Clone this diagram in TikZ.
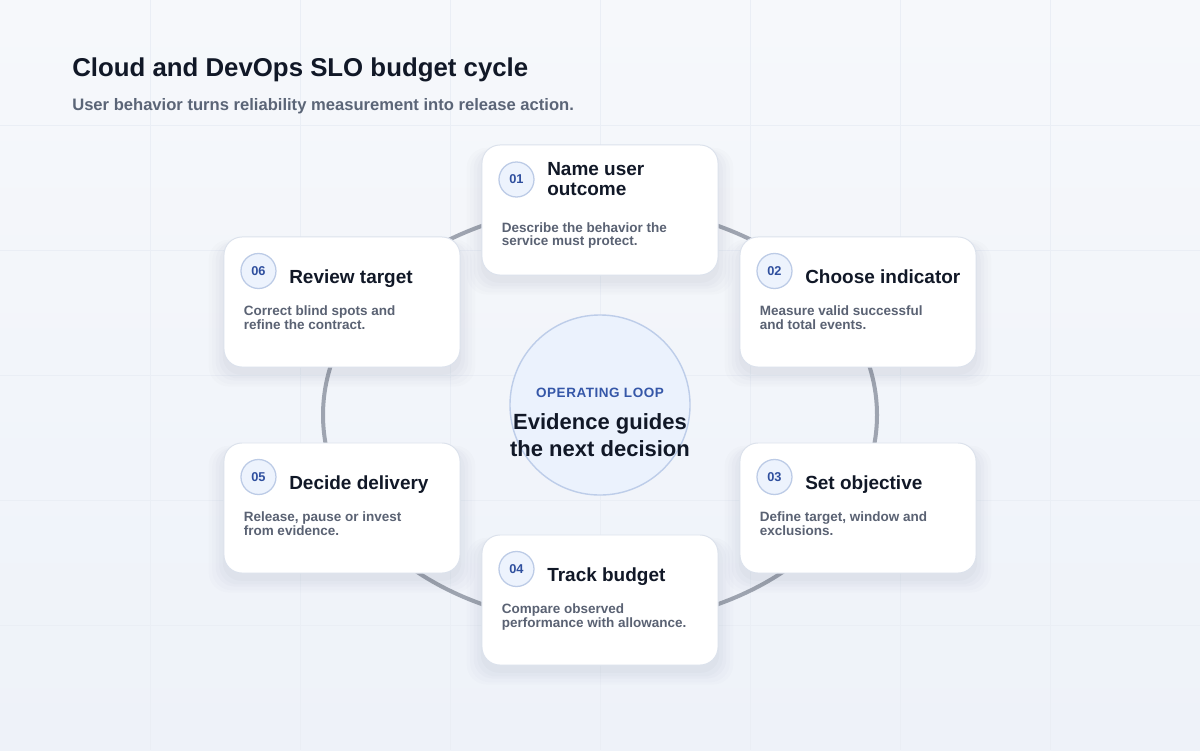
\documentclass[tikz,border=0pt]{standalone}
\usepackage{fontspec}
\setmainfont{Liberation Sans}
\usetikzlibrary{calc}
\usetikzlibrary{shadows}

\definecolor{ink}{HTML}{111827}
\definecolor{slate}{HTML}{5B6577}
\definecolor{bodygray}{HTML}{5A6273}
\definecolor{ringgray}{HTML}{9EA4B0}
\definecolor{cardline}{HTML}{DCE2EC}
\definecolor{badgefill}{HTML}{EDF3FD}
\definecolor{badgeline}{HTML}{BCCBE6}
\definecolor{badgeink}{HTML}{2F4F9E}
\definecolor{hubfill}{HTML}{EBF2FD}
\definecolor{hubline}{HTML}{BDCDE9}
\definecolor{loopblue}{HTML}{3557A8}
\definecolor{bgtop}{HTML}{F6F8FB}
\definecolor{bgbottom}{HTML}{EEF2F9}
\definecolor{gridline}{HTML}{EAEEF5}
\definecolor{shadowink}{HTML}{1E2B4F}

\begin{document}
\begin{tikzpicture}[x=0.025cm, y=-0.025cm]
                \tikzstyle{card} = [draw=cardline, line width=0.7pt, fill=white, rounded corners=0.45cm,
                        minimum width=5.9cm, minimum height=3.25cm, inner sep=0pt,
                        general shadow={fill=shadowink, fill opacity=0.010, shadow yshift=-7pt, shadow scale=1.13},
                        general shadow={fill=shadowink, fill opacity=0.012, shadow yshift=-7pt, shadow scale=1.10},
                        general shadow={fill=shadowink, fill opacity=0.014, shadow yshift=-6pt, shadow scale=1.07},
                        general shadow={fill=shadowink, fill opacity=0.016, shadow yshift=-6pt, shadow scale=1.04},
                        general shadow={fill=shadowink, fill opacity=0.018, shadow yshift=-5pt, shadow scale=1.01}]
                \tikzstyle{badge} = [circle, minimum size=0.875cm, inner sep=0pt, fill=badgefill, draw=badgeline,
                        line width=0.9pt, text=badgeink, font=\fontsize{9.1pt}{10pt}\selectfont\bfseries]
                \tikzstyle{steptitle} = [anchor=base west, inner sep=0pt, align=left, text=ink,
                        font=\fontsize{13.5pt}{14.5pt}\selectfont\bfseries]
                \tikzstyle{stepbody} = [anchor=base west, inner sep=0pt, align=left, text=bodygray,
                        font=\fontsize{9.6pt}{9.8pt}\selectfont\bfseries]
                \tikzstyle{ring} = [draw=ringgray, line width=2.85pt]

                % page, grid
                \useasboundingbox (0,0) rectangle (1200,750);
                \shade[top color=bgtop, bottom color=bgbottom] (0,0) rectangle (1200,750);
                \foreach \gx in {150,300,...,1050}
                    \draw[gridline, line width=0.7pt] (\gx,0) -- (\gx,750);
                \foreach \gy in {125,250,...,625}
                    \draw[gridline, line width=0.7pt] (0,\gy) -- (1200,\gy);

                % heading
                \node[anchor=base west, inner sep=0pt, text=ink, font=\fontsize{18.35pt}{22pt}\selectfont\bfseries]
                    (title) at (72,76.7) {Cloud and DevOps SLO budget cycle};
                \node[anchor=base west, inner sep=0pt, text=slate, font=\fontsize{11.8pt}{13pt}\selectfont\bfseries]
                    (subtitle) at (72,110) {User behavior turns reliability measurement into release action.};

                % loop
                \draw[ring] (600,415) ellipse [x radius=277, y radius=209];
                \node[circle, minimum size=4.5cm, fill=hubfill, draw=hubline, line width=1pt] (hub) at (600,405) {};
                \node[anchor=base, inner sep=0pt, text=loopblue,
                    font=\fontsize{9.6pt}{11pt}\selectfont\bfseries\addfontfeature{LetterSpace=4}]
                    (looplabel) at (600,397.3) {OPERATING LOOP};
                \node[anchor=base, inner sep=0pt, align=center, text=ink, font=\fontsize{15.65pt}{19pt}\selectfont\bfseries]
                    (hubtext) at (600,456.7) {Evidence guides\\the next decision};

                % cards
                \node[card] (c1) at (600,210) {};
                \node[card] (c2) at (858,302) {};
                \node[card] (c3) at (858,508) {};
                \node[card] (c4) at (600,600) {};
                \node[card] (c5) at (342,508) {};
                \node[card] (c6) at (342,302) {};

                \node[badge] (b1) at ($(c1.north west)+(35,35)$) {01};
                \node[steptitle] (t1) at ($(c1.north west)+(65.5,51)$) {Name user\\outcome};
                \node[stepbody] (d1) at ($(c1.north west)+(20,101.5)$) {Describe the behavior the\\service must protect.};

                \node[badge] (b2) at ($(c2.north west)+(35,34.5)$) {02};
                \node[steptitle] (t2) at ($(c2.north west)+(65.5,47)$) {Choose indicator};
                \node[stepbody] (d2) at ($(c2.north west)+(20,93)$) {Measure valid successful\\and total events.};

                \node[badge] (b3) at ($(c3.north west)+(35,34.5)$) {03};
                \node[steptitle] (t3) at ($(c3.north west)+(65.5,47)$) {Set objective};
                \node[stepbody] (d3) at ($(c3.north west)+(20,93)$) {Define target, window and\\exclusions.};

                \node[badge] (b4) at ($(c4.north west)+(35,34.5)$) {04};
                \node[steptitle] (t4) at ($(c4.north west)+(65.5,47)$) {Track budget};
                \node[stepbody] (d4) at ($(c4.north west)+(20,93)$) {Compare observed\\performance with allowance.};

                \node[badge] (b5) at ($(c5.north west)+(35,34.5)$) {05};
                \node[steptitle] (t5) at ($(c5.north west)+(65.5,47)$) {Decide delivery};
                \node[stepbody] (d5) at ($(c5.north west)+(20,93)$) {Release, pause or invest\\from evidence.};

                \node[badge] (b6) at ($(c6.north west)+(35,34.5)$) {06};
                \node[steptitle] (t6) at ($(c6.north west)+(65.5,47)$) {Review target};
                \node[stepbody] (d6) at ($(c6.north west)+(20,93)$) {Correct blind spots and\\refine the contract.};
            \end{tikzpicture}
\end{document}
